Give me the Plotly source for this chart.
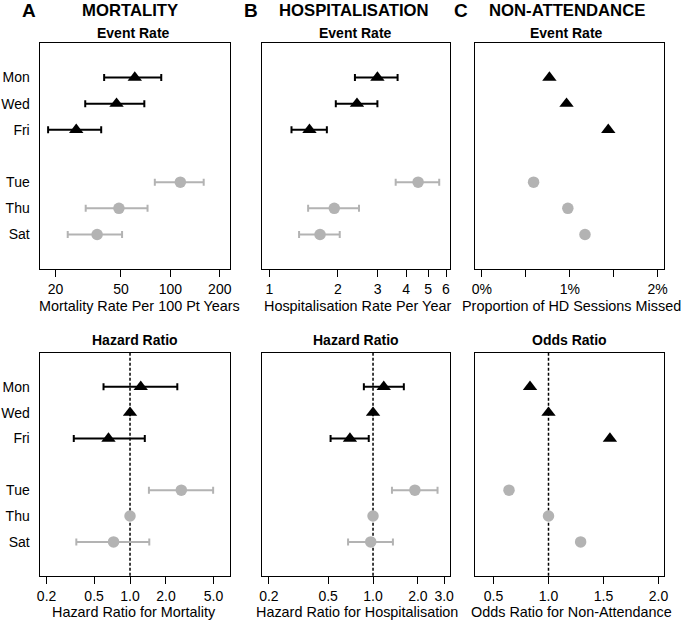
import plotly.graph_objects as go

# ---------------- data ----------------
days = ["Mon", "Wed", "Fri", "Tue", "Thu", "Sat"]
day_rows = [1, 2, 3, 5, 6, 7]
group = ["MWF", "MWF", "MWF", "TTS", "TTS", "TTS"]

# Mortality rate per 100 patient-years (estimate, lower, upper)
mort_rate = [60.7, 47.0, 26.7, 115.0, 48.6, 35.8]
mort_rate_lo = [39.5, 30.3, 18.0, 80.4, 30.5, 23.7]
mort_rate_hi = [88.0, 69.4, 37.9, 159.6, 72.6, 50.8]

# Hospitalisation rate per year
hosp_rate = [2.99, 2.43, 1.50, 4.52, 1.93, 1.67]
hosp_rate_lo = [2.38, 1.96, 1.25, 3.60, 1.48, 1.35]
hosp_rate_hi = [3.67, 2.99, 1.79, 5.60, 2.48, 2.04]

# Non-attendance: proportion of HD sessions missed (%)
na_prop = [0.768, 0.963, 1.438, 0.588, 0.978, 1.173]

# Hazard ratio for mortality
mort_hr = [1.23, 1.0, 0.66, 2.69, 1.0, 0.728]
mort_hr_lo = [0.60, None, 0.338, 1.44, None, 0.355]
mort_hr_hi = [2.49, None, 1.33, 4.97, None, 1.45]

# Hazard ratio for hospitalisation
hosp_hr = [1.18, 1.0, 0.70, 1.91, 1.0, 0.965]
hosp_hr_lo = [0.868, None, 0.519, 1.34, None, 0.68]
hosp_hr_hi = [1.61, None, 0.936, 2.71, None, 1.36]

# Odds ratio for non-attendance
na_or = [0.832, 1.0, 1.558, 0.641, 1.0, 1.292]

# tick labels
ticks_mort_rate = [20, 50, 100, 200]
ticks_hosp_rate = [1, 2, 3, 4, 5, 6]
ticks_na_prop = [0, 0.5, 1, 1.5, 2]
ticktext_na_prop = ["0%", "", "1%", "", "2%"]
ticks_mort_hr = [0.2, 0.5, 1, 2, 5]
ticktext_mort_hr = ["0.2", "0.5", "1.0", "2.0", "5.0"]
ticks_hosp_hr = [0.2, 0.5, 1, 2, 3]
ticktext_hosp_hr = ["0.2", "0.5", "1.0", "2.0", "3.0"]
ticks_na_or = [0.5, 1, 1.5, 2]
ticktext_na_or = ["0.5", "1.0", "1.5", "2.0"]

# ---------------- styling ----------------
W, H = 685, 623
FONT = "Liberation Sans, Arial, sans-serif"
BLACK = "#000000"
GREY = "#b3b3b3"

fig = go.Figure()

col_x = [(36, 229.3), (261, 452), (477.7, 668.3)]
row_y = [(43, 269), (352.7, 576)]
Y_RANGE = [8.32, -0.32]


def dom_x(a, b):
    return [a / W, b / W]


def dom_y(a, b):
    return [1 - b / H, 1 - a / H]


def add_points(idx, vals, lo=None, hi=None):
    xa = "x" if idx == 1 else f"x{idx}"
    ya = "y" if idx == 1 else f"y{idx}"
    for g, col, sym, size in [("MWF", BLACK, "triangle-up", 12.5), ("TTS", GREY, "circle", 11.5)]:
        sel = [i for i in range(len(days)) if group[i] == g]
        xs = [vals[i] for i in sel]
        ys = [day_rows[i] for i in sel]
        tr = dict(x=xs, y=ys, mode="markers", xaxis=xa, yaxis=ya, showlegend=False,
                  marker=dict(symbol=sym, size=size, color=col, line=dict(width=0)))
        if lo is not None:
            plus = [(hi[i] - vals[i]) if hi[i] is not None else None for i in sel]
            minus = [(vals[i] - lo[i]) if lo[i] is not None else None for i in sel]
            tr["error_x"] = dict(type="data", symmetric=False, array=plus, arrayminus=minus,
                                 color=col, thickness=2, width=3.5)
        fig.add_trace(go.Scatter(**tr))


def add_refline(idx):
    xa = f"x{idx}"
    ya = f"y{idx}"
    fig.add_trace(go.Scatter(x=[1, 1], y=[Y_RANGE[1], Y_RANGE[0]], mode="lines", xaxis=xa, yaxis=ya,
                             showlegend=False, hoverinfo="skip",
                             line=dict(color=BLACK, width=1.5, dash="3px,2px")))


add_refline(4)
add_refline(5)
add_refline(6)

add_points(1, mort_rate, mort_rate_lo, mort_rate_hi)
add_points(2, hosp_rate, hosp_rate_lo, hosp_rate_hi)
add_points(3, na_prop)
add_points(4, mort_hr, mort_hr_lo, mort_hr_hi)
add_points(5, hosp_hr, hosp_hr_lo, hosp_hr_hi)
add_points(6, na_or)

axis_common = dict(showline=True, mirror=True, linecolor=BLACK, linewidth=1, showgrid=False,
                   zeroline=False, ticks="outside", ticklen=7, tickwidth=1, tickcolor=BLACK,
                   tickfont=dict(family=FONT, size=14, color=BLACK))

xspec = {
    1: dict(type="log", range=[1.203, 2.365], tickvals=ticks_mort_rate,
            ticktext=[str(v) for v in ticks_mort_rate]),
    2: dict(type="log", range=[-0.035, 0.796], tickvals=ticks_hosp_rate,
            ticktext=[str(v) for v in ticks_hosp_rate]),
    3: dict(type="linear", range=[-0.074, 2.067], tickvals=ticks_na_prop, ticktext=ticktext_na_prop),
    4: dict(type="log", range=[-0.758, 0.840], tickvals=ticks_mort_hr, ticktext=ticktext_mort_hr),
    5: dict(type="log", range=[-0.748, 0.517], tickvals=ticks_hosp_hr, ticktext=ticktext_hosp_hr),
    6: dict(type="linear", range=[0.336, 2.045], tickvals=ticks_na_or, ticktext=ticktext_na_or),
}

layout = dict(width=W, height=H, margin=dict(l=0, r=0, t=0, b=0),
              paper_bgcolor="white", plot_bgcolor="white", showlegend=False)

for idx in range(1, 7):
    r = 0 if idx <= 3 else 1
    c = (idx - 1) % 3
    xk = "xaxis" if idx == 1 else f"xaxis{idx}"
    yk = "yaxis" if idx == 1 else f"yaxis{idx}"
    anchor_x = "y" if idx == 1 else f"y{idx}"
    anchor_y = "x" if idx == 1 else f"x{idx}"
    layout[xk] = dict(axis_common, domain=dom_x(*col_x[c]), anchor=anchor_x, **xspec[idx])
    layout[yk] = dict(showline=True, mirror=True, linecolor=BLACK, linewidth=1, showgrid=False,
                      zeroline=False, domain=dom_y(*row_y[r]), anchor=anchor_y,
                      range=Y_RANGE, tickvals=day_rows, ticktext=days, ticks="",
                      showticklabels=(c == 0), ticklabelstandoff=6,
                      tickfont=dict(family=FONT, size=14, color=BLACK))

fig.update_layout(**layout)

annots = []


def ann(text, x, y, size, bold=False):
    annots.append(dict(text=f"<b>{text}</b>" if bold else text, x=x / W, y=1 - y / H,
                       xref="paper", yref="paper", showarrow=False, xanchor="center", yanchor="middle",
                       font=dict(family=FONT, size=size, color=BLACK)))


# panel letters and headers
ann("A", 25.5, 11, 19, True)
ann("MORTALITY", 127.5, 11, 16.7, True)
ann("B", 250, 11, 19, True)
ann("HOSPITALISATION", 355, 11, 16.7, True)
ann("C", 463.5, 11, 19, True)
ann("NON-ATTENDANCE", 570.8, 11, 16.7, True)

# subplot titles
ann("Event Rate", 131, 33, 14, True)
ann("Event Rate", 356.5, 33, 14, True)
ann("Event Rate", 570, 33, 14, True)
ann("Hazard Ratio", 132.5, 340, 14, True)
ann("Hazard Ratio", 356.5, 340, 14, True)
ann("Odds Ratio", 573, 340, 14, True)

# axis titles
ann("Mortality Rate Per 100 Pt Years", 137, 306, 14.4)
ann("Hospitalisation Rate Per Year", 358, 306, 14.4)
ann("Proportion of HD Sessions Missed", 575, 306, 14.4)
ann("Hazard Ratio for Mortality", 132, 612, 14.4)
ann("Hazard Ratio for Hospitalisation", 358, 612, 14.4)
ann("Odds Ratio for Non-Attendance", 575, 612, 14.4)

fig.update_layout(annotations=annots)

fig.write_html("out.html", config={"displayModeBar": False},
               post_script="document.body.style.margin='0';document.body.style.overflow='hidden';")
